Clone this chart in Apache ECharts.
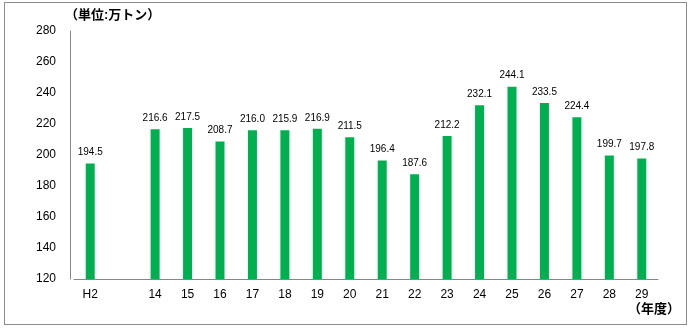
<!DOCTYPE html>
<html>
<head>
<meta charset="utf-8">
<script src="https://cdn.jsdelivr.net/npm/echarts@6/dist/echarts.min.js"></script>
<style>
  html, body { margin: 0; padding: 0; background: #fff; }
  #frame { position: absolute; left: 4px; top: 2px; width: 683px; height: 323px; border: 1px solid #8c8c8c; box-sizing: border-box; }
  #chart { position: absolute; left: 0; top: 0; width: 694px; height: 333px; }
</style>
</head>
<body>
<div id="frame"></div>
<div id="chart"></div>
<script>
// Fiscal years (H2, then a blank slot, then H14..H29)
const years = ['H2', '', '14', '15', '16', '17', '18', '19', '20', '21', '22', '23', '24', '25', '26', '27', '28', '29'];
// Amount in 10k tonnes
const amounts = [194.5, null, 216.6, 217.5, 208.7, 216.0, 215.9, 216.9, 211.5, 196.4, 187.6, 212.2, 232.1, 244.1, 233.5, 224.4, 199.7, 197.8];
const yTicks = [120, 140, 160, 180, 200, 220, 240, 260, 280];

const font = '"Liberation Sans", "Noto Sans CJK JP", sans-serif';
const chart = echarts.init(document.getElementById('chart'), null, { renderer: 'canvas' });
chart.setOption({
  animation: false,
  textStyle: { fontFamily: font },
  grid: { left: 74, right: 36, top: 31, bottom: 54 },
  graphic: [
    { type: 'text', left: 65, top: 9, style: { text: '（単位:万トン）', font: 'bold 13px ' + font, fill: '#000' } },
    { type: 'text', left: 628, top: 303, style: { text: '（年度）', font: 'bold 13px ' + font, fill: '#000' } }
  ],
  xAxis: {
    type: 'category',
    data: years,
    axisLine: { lineStyle: { color: '#868686', width: 1 } },
    axisTick: { show: false },
    axisLabel: { color: '#000', fontSize: 12, margin: 10, interval: 0 }
  },
  yAxis: {
    type: 'value',
    min: yTicks[0],
    max: yTicks[yTicks.length - 1],
    interval: 20,
    offset: 4,
    axisLine: { show: true, lineStyle: { color: '#868686', width: 1 } },
    axisTick: { show: false },
    splitLine: { show: false },
    axisLabel: { color: '#000', fontSize: 12, margin: 14 }
  },
  series: [{
    type: 'bar',
    data: amounts,
    barWidth: 9,
    itemStyle: { color: '#00B050' },
    label: {
      show: true,
      position: 'top',
      distance: 6,
      fontSize: 10,
      color: '#000',
      formatter: p => p.value == null ? '' : Number(p.value).toFixed(1)
    }
  }]
});
</script>
</body>
</html>
